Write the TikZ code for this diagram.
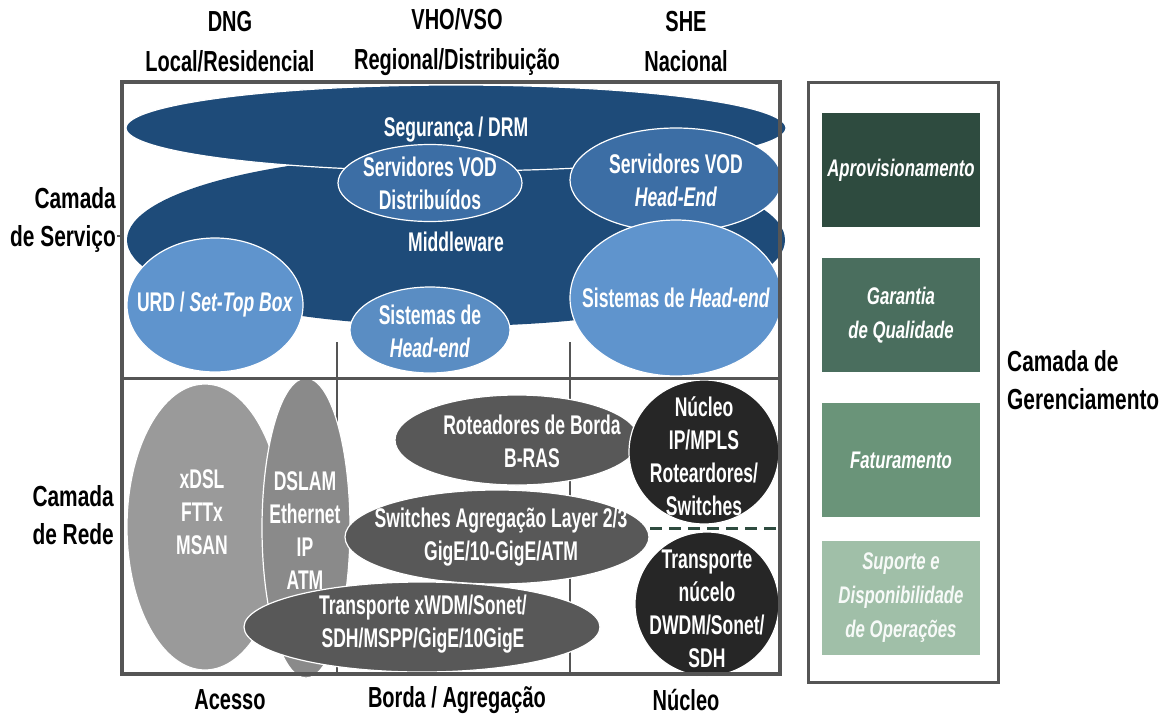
\documentclass[tikz,border=0pt]{standalone}
\usepackage{fontspec}
\setmainfont{Liberation Sans}
\newfontfamily\innerfont{Liberation Sans}[FakeStretch=0.65]
\newfontfamily\headfont{Liberation Sans}[FakeStretch=0.69]
\newfontfamily\sidefont{Liberation Sans}[FakeStretch=0.72]
\newfontfamily\mgmtfont{Liberation Sans}[FakeStretch=0.70]
\usetikzlibrary{shapes.geometric}
\definecolor{frame}{HTML}{555555}
\definecolor{navy}{HTML}{1E4B79}
\definecolor{midblue}{HTML}{3C6EA5}
\definecolor{liteblue}{HTML}{5F94CD}
\definecolor{gA}{HTML}{9A9A9A}
\definecolor{gB}{HTML}{8A8A8A}
\definecolor{gC}{HTML}{585858}
\definecolor{gD}{HTML}{262626}
\definecolor{mA}{HTML}{2E4B3F}
\definecolor{mB}{HTML}{4A6E5E}
\definecolor{mC}{HTML}{6A9479}
\definecolor{mD}{HTML}{A0BFA8}
\tikzset{
  blob/.style={ellipse, inner sep=0, draw=white, line width=1.2pt},
  wtxt/.style={text=white, align=center, inner sep=0,
    font=\innerfont\bfseries\fontsize{27}{33}\selectfont},
  htxt/.style={text=black, align=center, inner sep=0,
    font=\headfont\bfseries\fontsize{29}{40}\selectfont},
  stxt/.style={text=black, inner sep=0,
    font=\sidefont\bfseries\fontsize{29}{38}\selectfont},
  mbox/.style={rectangle, inner sep=0, minimum width=158pt, minimum height=114pt},
  mtxt/.style={text=white, align=center, inner sep=0,
    font=\mgmtfont\bfseries\itshape\fontsize{24}{34}\selectfont},
}
\begin{document}
\begin{tikzpicture}[x=1pt,y=-1pt]
\useasboundingbox (0,0) rectangle (1169,718);

% column headings
\node[htxt] (hDNG) at (230,42) {DNG\\Local/Residencial};
\node[htxt] (hVHO) at (457,42) {VHO/VSO\\Regional/Distribuição};
\node[htxt] (hSHE) at (686,42) {SHE\\Nacional};

% layer labels
\node[stxt, align=right, anchor=east] (lServ) at (116,220) {Camada\\de Serviço};
\node[stxt, align=right, anchor=east] (lRede) at (114,515) {Camada\\de Rede};
\node[htxt] (fAce) at (230,700) {Acesso};
\node[htxt] (fBor) at (457,700) {Borda / Agregação};
\node[htxt] (fNuc) at (686,700) {Núcleo};

% column dividers
\draw[frame, line width=1.5pt] (337,342) -- (337,673);
\draw[frame, line width=1.5pt] (570,342) -- (570,673);
\coordinate (tk1) at (117,236);
\coordinate (tk2) at (124,236);
\draw[frame, line width=1.5pt] (tk1) -- (tk2);

% ---- service layer ----
\node[blob, draw=none, fill=navy, minimum width=658pt, minimum height=172pt] (mw) at (456,240) {};
\node[blob, fill=navy, minimum width=660pt, minimum height=86pt] (drm) at (456,128) {};
\node[blob, fill=midblue, minimum width=184pt, minimum height=77pt] (vodd) at (430,183) {};
\node[blob, fill=midblue, minimum width=212pt, minimum height=104pt] (vodh) at (676,180) {};
\node[blob, fill=liteblue, minimum width=176pt, minimum height=134pt] (urd) at (215,305) {};
\node[blob, fill=liteblue!95!black, minimum width=160pt, minimum height=86pt] (heM) at (430,330) {};
\node[blob, fill=liteblue, minimum width=212pt, minimum height=156pt] (heR) at (676,298) {};

\node[wtxt] (tDrm) at (456,130) {Segurança / DRM};
\node[wtxt] (tMw) at (456,242) {Middleware};
\node[wtxt] (tVodd) at (430,183) {Servidores VOD\\Distribuídos};
\node[wtxt] (tVodh) at (676,180) {Servidores VOD\\\textit{Head-End}};
\node[wtxt] (tUrd) at (215,305) {URD / \textit{Set-Top Box}};
\node[wtxt] (tHeM) at (430,331) {Sistemas de\\\textit{Head-end}};
\node[wtxt] (tHeR) at (676,298) {Sistemas de \textit{Head-end}};

% ---- network layer ----
\coordinate (dA) at (650,528);
\coordinate (dB) at (780,528);
\draw[mA, line width=3pt, dash pattern=on 12pt off 7pt] (dA) -- (dB);

\node[blob, fill=gA, minimum width=156pt, minimum height=286pt] (xdsl) at (205,527) {};
\node[blob, fill=gB, minimum width=88pt, minimum height=300pt] (dslam) at (306,528) {};
\node[blob, fill=gC, minimum width=244pt, minimum height=90pt] (brd) at (517,440) {};
\node[blob, fill=gC, minimum width=304pt, minimum height=94pt] (sw) at (497,537) {};
\node[blob, fill=gC, minimum width=356pt, minimum height=90pt] (tx) at (422,627) {};
\node[blob, fill=gD, minimum width=150pt, minimum height=144pt] (core) at (704,452) {};
\node[blob, fill=gD, minimum width=144pt, minimum height=144pt] (tcore) at (707,604) {};

\node[wtxt] (tX) at (202,512) {xDSL\\FTTx\\MSAN};
\node[wtxt] (tD) at (305,531) {DSLAM\\Ethernet\\IP\\ATM};
\node[wtxt] (tBrd) at (532,441) {Roteadores de Borda\\B-RAS};
\node[wtxt] (tSw) at (501,537) {Switches Agregação Layer 2/3\\GigE/10-GigE/ATM};
\node[wtxt] (tTx) at (423,624) {Transporte xWDM/Sonet/\\SDH/MSPP/GigE/10GigE};
\node[wtxt] (tCore) at (704,456) {Núcleo\\IP/MPLS\\Roteardores/\\Switches};
\node[wtxt] (tTcore) at (707,609) {Transporte\\núcelo\\DWDM/Sonet/\\SDH};

% ---- main frame ----
\node[draw=frame, line width=3.5pt, rectangle, inner sep=0, minimum width=658pt, minimum height=592pt] (main) at (451,378) {};
\draw[frame, line width=3pt] (main.west |- 0,378) -- (main.east |- 0,378);

% ---- management layer ----
\node[draw=frame, line width=3pt, rectangle, inner sep=0, minimum width=190pt, minimum height=600pt] (mgmt) at (903,382) {};
\node[mbox, fill=mA] (bA) at (901,170) {};
\node[mbox, fill=mB] (bB) at (901,315) {};
\node[mbox, fill=mC] (bC) at (901,460) {};
\node[mbox, fill=mD] (bD) at (901,598) {};
\node[mtxt] (tA) at (bA) {Aprovisionamento};
\node[mtxt] (tB) at (bB) {Garantia\\de Qualidade};
\node[mtxt] (tC) at (bC) {Faturamento};
\node[mtxt, text=white!92!mD] (tD2) at (bD) {Suporte e\\Disponibilidade\\de Operações};
\node[stxt, align=left, anchor=west] (lMg) at (1007,380) {Camada de\\Gerenciamento};
\end{tikzpicture}
\end{document}
